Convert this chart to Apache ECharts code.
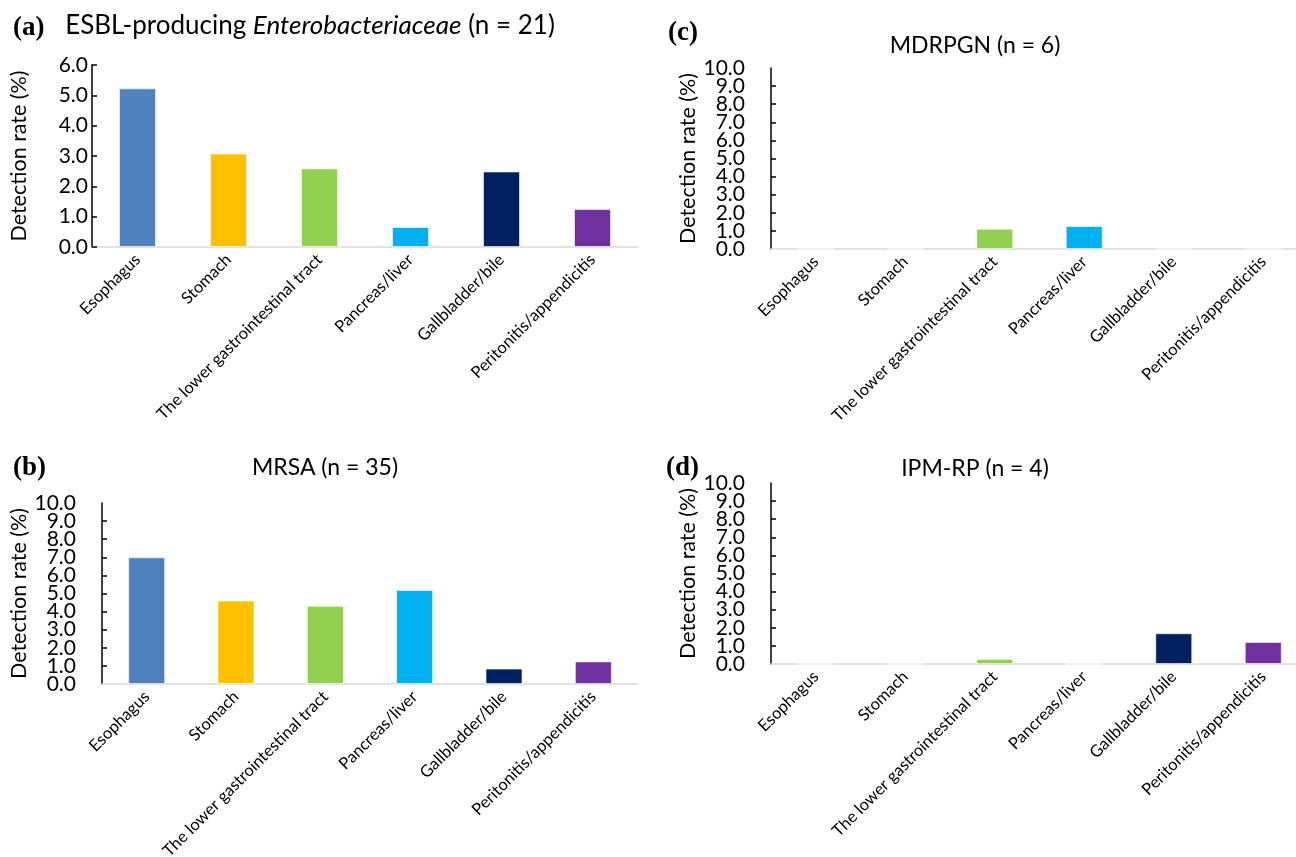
<!DOCTYPE html>
<html>
<head>
<meta charset="utf-8">
<script src="https://cdn.jsdelivr.net/npm/echarts@6/dist/echarts.min.js"></script>
<style>
  html, body { margin: 0; padding: 0; background: #fff; }
  #detection-chart { width: 1296px; height: 857px; }
</style>
</head>
<body>
<div id="detection-chart"></div>
<script>
// categories shared by all four panels
var sites = ["Esophagus", "Stomach", "The lower gastrointestinal tract", "Pancreas/liver", "Gallbladder/bile", "Peritonitis/appendicitis"];
var siteColors = ["#4F81BD", "#FFC000", "#92D050", "#00B0F0", "#002060", "#7030A0"];

// detection rate (%)
var esblRates = [5.23, 3.08, 2.59, 0.66, 2.49, 1.25];
var mrsaRates = [7.0, 4.61, 4.32, 5.2, 0.85, 1.25];
var mdrpgnRates = [0, 0, 1.12, 1.27, 0, 0];
var ipmRates = [0, 0, 0.28, 0, 1.7, 1.22];

var yMaxSmall = 6;
var yMaxLarge = 10;

var font = "Lato, 'Open Sans', sans-serif";

var myChart = echarts.init(document.getElementById("detection-chart"));

function makeX(gridIndex) {
  return {
    type: "category",
    gridIndex: gridIndex,
    data: sites,
    axisTick: { show: false },
    axisLine: { lineStyle: { color: "#d9d9d9", width: 1.5 } },
    axisLabel: {
      rotate: 45,
      interval: 0,
      margin: 10,
      color: "#000",
      fontSize: 16.5,
      fontFamily: font,
      hideOverlap: false
    },
    splitLine: { show: false }
  };
}

function tickLabel(margin) {
  return {
    color: "#000",
    fontSize: 21,
    fontFamily: font,
    margin: margin,
    hideOverlap: false
  };
}

function makeY(gridIndex, max, labelMargin, nameGap) {
  var label = tickLabel(labelMargin);
  if (max === yMaxLarge) {
    // the end labels come from the helper axis below, echarts would drop 1.0 / 9.0 otherwise
    label.showMinLabel = false;
    label.showMaxLabel = false;
    label.formatter = function (v) { return (v === 0 || v === max) ? "" : v.toFixed(1); };
  } else {
    label.formatter = function (v) { return v.toFixed(1); };
  }
  return {
    type: "value",
    gridIndex: gridIndex,
    min: 0,
    max: max,
    interval: 1,
    name: "Detection rate (%)",
    nameLocation: "middle",
    nameGap: nameGap,
    nameTextStyle: { color: "#000", fontSize: 21.5, fontFamily: font },
    axisLine: { show: true, lineStyle: { color: "#000", width: 1.5 } },
    axisTick: { show: true, inside: true, length: 5, lineStyle: { color: "#000", width: 1.5 } },
    splitLine: { show: false },
    axisLabel: label
  };
}

// same scale, only the 0.0 and 10.0 labels
function makeEndY(gridIndex, max, labelMargin) {
  var label = tickLabel(labelMargin);
  label.showMinLabel = true;
  label.showMaxLabel = true;
  label.formatter = function (v) { return (v === 0 || v === max) ? v.toFixed(1) : ""; };
  return {
    type: "value",
    gridIndex: gridIndex,
    position: "left",
    min: 0,
    max: max,
    interval: 1,
    axisLine: { show: false },
    axisTick: { show: false },
    splitLine: { show: false },
    axisLabel: label
  };
}

function makeBars(index, yIndex, values) {
  return {
    type: "bar",
    xAxisIndex: index,
    yAxisIndex: yIndex,
    data: values,
    barWidth: 37,
    itemStyle: {
      color: function (p) { return siteColors[p.dataIndex]; },
      borderColor: "rgba(255,255,255,0.6)",
      borderWidth: 1
    }
  };
}

function panelLabel(text, left, top) {
  return {
    text: text,
    left: left,
    top: top,
    textStyle: { fontFamily: "'Liberation Serif', serif", fontWeight: "bold", fontSize: 27, color: "#000" }
  };
}

function panelTitle(text, centerX, top, size, rich) {
  return {
    text: text,
    left: centerX,
    top: top,
    textAlign: "center",
    textStyle: { fontFamily: font, fontWeight: "normal", fontSize: size, color: "#000", rich: rich || {} }
  };
}

var option = {
  backgroundColor: "#fff",
  animation: false,
  title: [
    panelLabel("(a)", 8, 10),
    panelTitle("ESBL-producing {i|Enterobacteriaceae} (n = 21)", 305, 8, 26, {
      i: { fontFamily: font, fontStyle: "italic", fontSize: 26, color: "#000" }
    }),
    panelLabel("(b)", 8, 450),
    panelTitle("MRSA (n = 35)", 320, 451, 23),
    panelLabel("(c)", 663, 15),
    panelTitle("MDRPGN (n = 6)", 970, 29, 23),
    panelLabel("(d)", 661, 450),
    panelTitle("IPM-RP (n = 4)", 970, 452, 23)
  ],
  grid: [
    { left: 92, top: 65, width: 546, height: 182, outerBoundsMode: "none" },
    { left: 102, top: 503, width: 536, height: 181, outerBoundsMode: "none" },
    { left: 771, top: 68, width: 537, height: 181, outerBoundsMode: "none" },
    { left: 771, top: 483, width: 537, height: 181, outerBoundsMode: "none" }
  ],
  xAxis: [makeX(0), makeX(1), makeX(2), makeX(3)],
  yAxis: [
    makeY(0, yMaxSmall, 4, 62),
    makeY(1, yMaxLarge, 26, 72),
    makeY(2, yMaxLarge, 26, 72),
    makeY(3, yMaxLarge, 26, 72),
    makeEndY(1, yMaxLarge, 26),
    makeEndY(2, yMaxLarge, 26),
    makeEndY(3, yMaxLarge, 26)
  ],
  series: [
    makeBars(0, 0, esblRates),
    makeBars(1, 1, mrsaRates),
    makeBars(2, 2, mdrpgnRates),
    makeBars(3, 3, ipmRates)
  ]
};

myChart.setOption(option);
</script>
</body>
</html>
